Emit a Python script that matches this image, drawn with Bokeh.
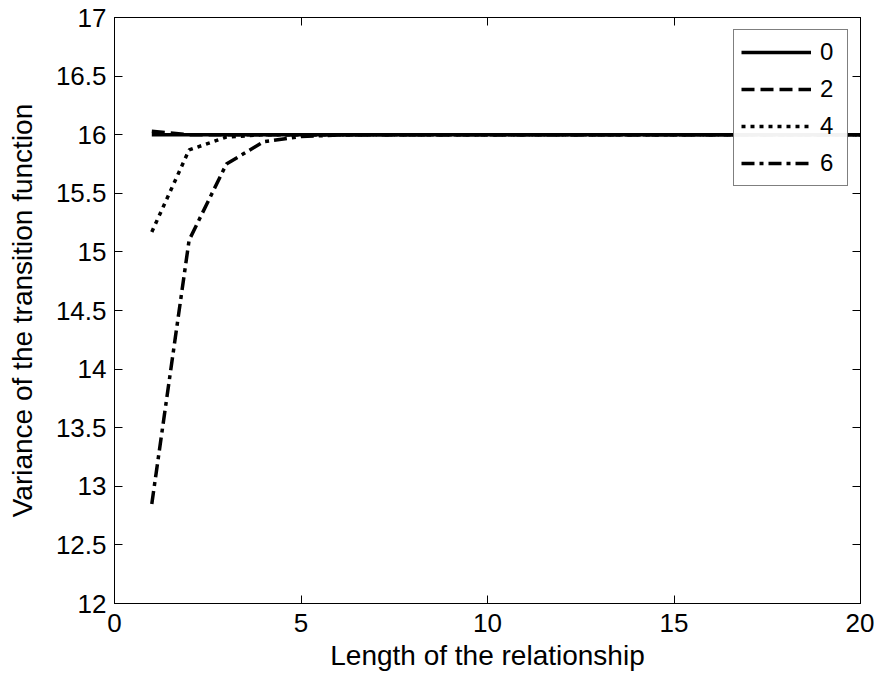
from bokeh.plotting import figure
from bokeh.models import LinearAxis, Range1d, FixedTicker, Legend, LegendItem, CustomLabelingPolicy
from bokeh.embed import file_html
from bokeh.resources import INLINE

x = list(range(1, 21))
s0 = [16.0] * 20
s2 = [16.03, 16.0] + [16.0] * 18
s4 = [15.17, 15.87, 15.98, 16.0] + [16.0] * 16
s6 = [12.85, 15.10, 15.75, 15.94, 15.985, 15.997] + [16.0] * 14
labels = ["0", "2", "4", "6"]
xticks = [0, 5, 10, 15, 20]
yticks = [12, 12.5, 13, 13.5, 14, 14.5, 15, 15.5, 16, 16.5, 17]

FONT = "Liberation Sans"

p = figure(width=874, height=677, output_backend="svg", toolbar_location=None,
           x_range=Range1d(0, 20), y_range=Range1d(12, 17),
           min_border_left=114, min_border_right=14, min_border_top=17, min_border_bottom=74)
p.xgrid.visible = False
p.ygrid.visible = False
p.outline_line_color = "black"
p.outline_line_width = 1

LW = 3.5
r0 = p.line(x, s0, line_color="black", line_width=LW)
r2 = p.line(x, s2, line_color="black", line_width=LW, line_dash="13 6")
r4 = p.line(x, s4, line_color="black", line_width=LW, line_dash="4 5")
r6 = p.line(x, s6, line_color="black", line_width=LW, line_dash="13 5 4 5")

for ax in p.xaxis:
    ax.ticker = FixedTicker(ticks=xticks)
    ax.axis_label = "Length of the relationship"
for ax in p.yaxis:
    ax.ticker = FixedTicker(ticks=yticks)
    ax.axis_label = "Variance of the transition function"

for ax in list(p.xaxis) + list(p.yaxis):
    ax.major_tick_in = 8
    ax.major_tick_out = 0
    ax.minor_tick_in = 0
    ax.minor_tick_out = 0
    ax.major_label_text_font = FONT
    ax.major_label_text_font_size = "26px"
    ax.major_label_text_color = "black"
    ax.axis_label_text_font = FONT
    ax.axis_label_text_font_size = "28px"
    ax.axis_label_text_font_style = "normal"
    ax.axis_label_text_color = "black"
    ax.axis_line_color = "black"
    ax.major_tick_line_color = "black"

p.xaxis.major_label_standoff = 10
p.xaxis.axis_label_standoff = 5
p.yaxis.major_label_standoff = 8
p.yaxis.axis_label_standoff = 15

hide = CustomLabelingPolicy(code="for (const i of [...indices]) { indices.unset(i) }\nreturn indices")
top = LinearAxis(ticker=FixedTicker(ticks=xticks), major_label_policy=hide,
                 major_label_standoff=0, axis_label_standoff=0, major_label_text_font_size="1px",
                 major_tick_in=8, major_tick_out=0, minor_tick_in=0, minor_tick_out=0)
right = LinearAxis(ticker=FixedTicker(ticks=yticks), major_label_policy=hide,
                   major_label_standoff=0, axis_label_standoff=0, major_label_text_font_size="1px",
                   major_tick_in=8, major_tick_out=0, minor_tick_in=0, minor_tick_out=0)
p.add_layout(top, "above")
p.add_layout(right, "right")

legend = Legend(items=[LegendItem(label=labels[0], renderers=[r0]),
                       LegendItem(label=labels[1], renderers=[r2]),
                       LegendItem(label=labels[2], renderers=[r4]),
                       LegendItem(label=labels[3], renderers=[r6])],
                location="top_right", margin=12, padding=7,
                border_line_color="black", border_line_width=1,
                label_text_font=FONT, label_text_font_size="24px", label_text_color="black",
                glyph_width=70, glyph_height=30, label_height=30, label_width=20,
                spacing=7, label_standoff=9, background_fill_color="white")
p.add_layout(legend, "center")

open("out.html", "w").write(file_html(p, INLINE))
